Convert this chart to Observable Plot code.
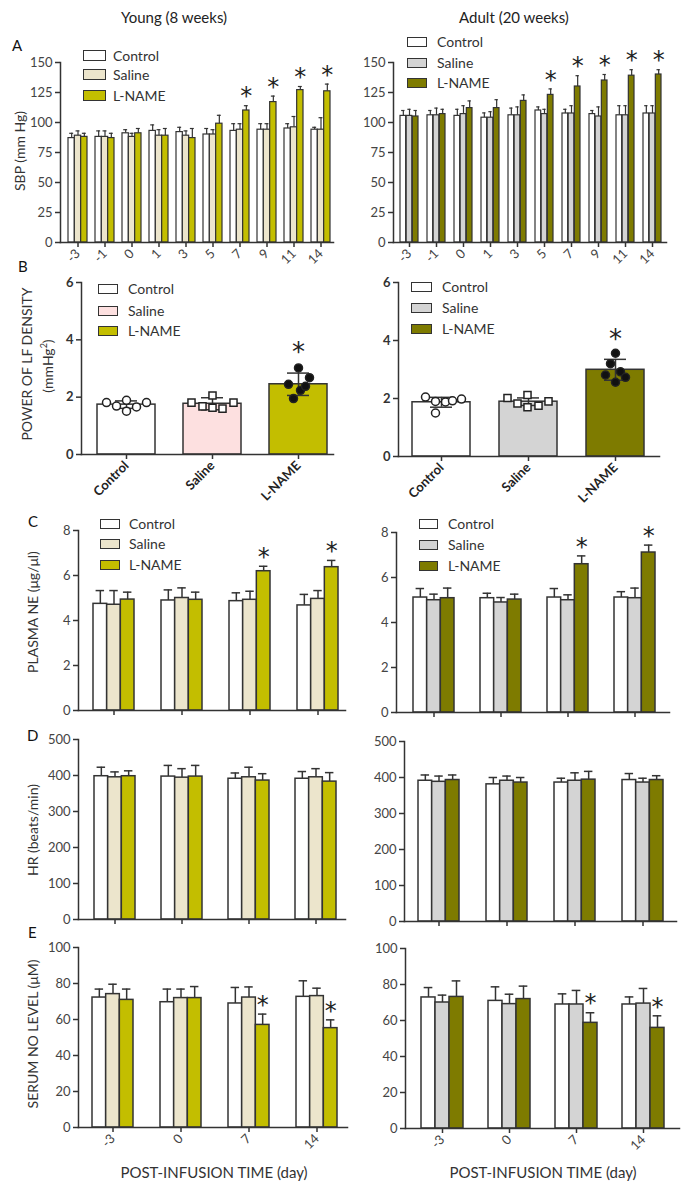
<!DOCTYPE html>
<html><head><meta charset="utf-8">
<script src="https://cdn.jsdelivr.net/npm/d3@7"></script>
<script src="https://cdn.jsdelivr.net/npm/@observablehq/plot@0.6"></script>
<style>
body{margin:0;background:#fff;}
#fig{position:relative;width:692px;height:1190px;font-family:Lato,"Open Sans",sans-serif;color:#333;overflow:hidden;background:#fff}
#fig svg{position:absolute;left:0;top:0}
.t{position:absolute;white-space:nowrap;line-height:1}
.box{position:absolute;box-sizing:border-box;border:1.5px solid #333}
</style></head><body><div id="fig"></div>
<script>
// ---------------- data ----------------
const groups = ["Control", "Saline", "L-NAME"];

const sbpDays = ["-3","-1","0","1","3","5","7","9","11","14"];
const sbpTicks = [0,25,50,75,100,125,150];
const sbpYoungControl = [87,88,91,93,92,90,93,94,95,94];
const sbpYoungControlErr = [4,5,3,5,4,5,6,5,4,2];
const sbpYoungSaline = [89,88,88,89,89,90,94,94,96,94];
const sbpYoungSalineErr = [4,5,3,5,4,4,5,5,9,10];
const sbpYoungLName = [88,87,91,89,87,99,110,117,127,126];
const sbpYoungLNameErr = [3,4,4,6,8,7,4,5,3,6];
const sbpYoungStars = ["7","9","11","14"];
const sbpAdultControl = [105.5,106,105.5,104,106,110,107.5,107,106,107.5];
const sbpAdultControlErr = [4.5,4,5.5,4,6,3,3.5,3,8,6.5];
const sbpAdultSaline = [105.5,106,107,104,106,107,107.5,105,106,107.5];
const sbpAdultSalineErr = [5.5,6,7,5,7,4,6.5,8,8,6.5];
const sbpAdultLName = [105,107,112,112,118,123,130,135,139,140];
const sbpAdultLNameErr = [5,4,6,7,5,5,9,5,5,4];
const sbpAdultStars = ["5","7","9","11","14"];

const lfTicks = [0,2,4,6];
const lfYoungMean = [1.74,1.77,2.45];
const lfYoungSD = [0.13,0.21,0.39];
const lfYoungControlPts = [1.81,1.69,1.89,1.51,1.66,1.81];
const lfYoungSalinePts = [1.81,1.68,2.06,1.63,1.60,1.81];
const lfYoungLNamePts = [2.45,3.02,2.68,1.95,2.24,2.38];
const lfAdultMean = [1.87,1.89,2.99];
const lfAdultSD = [0.17,0.13,0.36];
const lfAdultControlPts = [2.05,1.90,1.88,1.92,1.98,1.50];
const lfAdultSalinePts = [2.02,1.83,2.12,1.70,1.75,1.90];
const lfAdultLNamePts = [3.56,3.20,2.81,2.56,2.92,2.73];
const lfStars = ["L-NAME"];

const timeDays = ["-3","0","7","14"];
const neTicks = [0,2,4,6,8];
const neYoungControl = [4.74,4.89,4.86,4.67];
const neYoungControlErr = [0.59,0.47,0.37,0.49];
const neYoungSaline = [4.70,5.00,4.92,4.96];
const neYoungSalineErr = [0.63,0.45,0.38,0.37];
const neYoungLName = [4.93,4.92,6.19,6.37];
const neYoungLNameErr = [0.33,0.34,0.22,0.30];
const neAdultControl = [5.11,5.08,5.11,5.11];
const neAdultControlErr = [0.40,0.22,0.40,0.26];
const neAdultSaline = [4.99,4.89,4.99,5.08];
const neAdultSalineErr = [0.27,0.22,0.24,0.45];
const neAdultLName = [5.08,5.02,6.59,7.11];
const neAdultLNameErr = [0.45,0.24,0.37,0.33];
const neStars = ["7","14"];

const hrTicks = [0,100,200,300,400,500];
const hrYoungControl = [398,397,391,391];
const hrYoungControlErr = [25,31,16,20];
const hrYoungSaline = [395,394,395,395];
const hrYoungSalineErr = [15,25,28,24];
const hrYoungLName = [398,397,386,383];
const hrYoungLNameErr = [15,31,19,25];
const hrAdultControl = [391,381,386,393];
const hrAdultControlErr = [16,19,12,18];
const hrAdultSaline = [388,391,391,386];
const hrAdultSalineErr = [16,13,22,12];
const hrAdultLName = [393,386,394,393];
const hrAdultLNameErr = [14,14,23,12];

const noTicks = [0,20,40,60,80,100];
const noYoungControl = [72.2,69.6,68.9,72.6];
const noYoungControlErr = [4.7,7.3,8.9,8.9];
const noYoungSaline = [74.1,71.9,72.2,73.0];
const noYoungSalineErr = [5.5,5.0,5.9,4.4];
const noYoungLName = [70.9,71.9,57.0,55.2];
const noYoungLNameErr = [6.0,6.4,6.0,4.6];
const noAdultControl = [72.8,70.9,68.9,68.9];
const noAdultControlErr = [5.5,7.8,5.9,4.2];
const noAdultSaline = [70.0,69.1,68.9,69.4];
const noAdultSalineErr = [4.1,5.5,7.8,8.4];
const noAdultLName = [73.1,71.9,58.7,55.9];
const noAdultLNameErr = [8.9,7.2,5.6,6.7];
const noStars = ["7","14"];

// ---------------- styles ----------------
const youngFills = ["#ffffff", "#ece5cc", "#c3be00"];
const adultFills = ["#ffffff", "#d4d4d4", "#7e7b00"];
const lfYoungFills = ["#ffffff", "#fde0e0", "#c3be00"];
const INK = "#333";
const W = 692, H = 1190;
const FONT = "Lato, 'Open Sans', sans-serif";
const STAR_FONT = "'DejaVu Sans', sans-serif";
const fig = document.getElementById("fig");

function place(svg){ svg.style.position = "absolute"; svg.style.left = "0px"; svg.style.top = "0px"; fig.appendChild(svg); }

function grouped(cfg){
  const {cats, means, errs, fills, stars, yDomain, yTicks, axisX, axisEnd, yTop, yZero, xRange, gw, showX = true, sw = 1.5, starDy = -9} = cfg;
  const n = cats.length;
  const step = (xRange[1] - xRange[0] - gw) / (n - 1);
  const p = 1 - gw / step;
  const bw = gw / 3;
  const cap = bw * 0.62;
  const marks = [];
  groups.forEach((g, k) => {
    const data = cats.map((c, i) => ({cat: c, v: means[k][i], e: errs[k][i]}));
    marks.push(Plot.ruleX(data, {x: "cat", y1: "v", y2: d => d.v + d.e, dx: (k - 1) * bw, stroke: INK, strokeWidth: sw}));
    marks.push(Plot.tickY(data, {x: "cat", y: d => d.v + d.e, insetLeft: (k + 0.5) * bw - cap / 2, insetRight: gw - (k + 0.5) * bw - cap / 2, stroke: INK, strokeWidth: sw}));
    marks.push(Plot.barY(data, {x: "cat", y: "v", fill: fills[k], stroke: INK, strokeWidth: sw, insetLeft: k * bw, insetRight: (2 - k) * bw}));
  });
  const ln = cats.map((c, i) => ({cat: c, top: means[2][i] + errs[2][i]})).filter(d => stars.includes(d.cat));
  marks.push(Plot.text(ln, {x: "cat", y: "top", text: () => "*", dx: bw, dy: starDy, fontSize: 24, fontFamily: STAR_FONT, fill: "#222"}));
  marks.push(Plot.axisY({ticks: yTicks, tickSize: 5, tickPadding: 3, fontSize: 13, fill: "#444", stroke: INK, strokeWidth: 1.5, label: null}));
  marks.push(Plot.axisX({tickSize: 5, tickPadding: 4, tickRotate: -45, fontSize: 13, fill: "#444", stroke: INK, strokeWidth: 1.5, label: null, tickFormat: showX ? d => d : () => ""}));
  marks.push(Plot.frame({anchor: "left", stroke: INK, strokeWidth: 1.5}));
  marks.push(Plot.frame({anchor: "bottom", stroke: INK, strokeWidth: 1.5}));
  place(Plot.plot({
    width: W, height: H,
    marginLeft: axisX, marginRight: W - axisEnd, marginTop: yTop, marginBottom: H - yZero,
    x: {type: "band", domain: cats, range: xRange, paddingInner: p, paddingOuter: 0, align: 0.5},
    y: {domain: yDomain},
    style: {background: "transparent", overflow: "visible", fontFamily: FONT, color: INK},
    marks
  }));
}

function lfPanel(cfg){
  const {mean, sd, pts, jitter, fills, axisX, axisEnd, yTop, yZero, xRange, gw} = cfg;
  const step = (xRange[1] - xRange[0] - gw) / 2;
  const p = 1 - gw / step;
  const cap = 22;
  const data = groups.map((g, i) => ({cat: g, m: mean[i], s: sd[i]}));
  const marks = [
    Plot.barY(data, {x: "cat", y: "m", fill: (d, i) => fills[i], stroke: INK, strokeWidth: 1.5}),
    Plot.ruleX(data, {x: "cat", y1: d => d.m - d.s, y2: d => d.m + d.s, stroke: INK, strokeWidth: 1.5}),
    Plot.tickY(data, {x: "cat", y: d => d.m - d.s, insetLeft: (gw - cap) / 2, insetRight: (gw - cap) / 2, stroke: INK, strokeWidth: 1.5}),
    Plot.tickY(data, {x: "cat", y: d => d.m + d.s, insetLeft: (gw - cap) / 2, insetRight: (gw - cap) / 2, stroke: INK, strokeWidth: 1.5})
  ];
  const sym = [{symbol: "circle", fill: "#fff", r: 4}, {symbol: "square", fill: "#fff", r: 4}, {symbol: "circle", fill: "#111", r: 4}];
  groups.forEach((g, k) => {
    pts[k].forEach((v, i) => {
      marks.push(Plot.dot([{cat: g, v}], {x: "cat", y: "v", dx: jitter[k][i], symbol: sym[k].symbol, r: sym[k].r, fill: sym[k].fill, stroke: "#222", strokeWidth: 1.5}));
    });
  });
  marks.push(Plot.text(data.filter(d => lfStars.includes(d.cat)), {x: "cat", y: d => d.m + d.s, text: () => "*", dy: -20, fontSize: 26, fontFamily: STAR_FONT, fill: "#222"}));
  marks.push(Plot.axisY({ticks: lfTicks, tickFormat: d => String(d), tickSize: 5, tickPadding: 3, fontSize: 13, fontWeight: "bold", fill: "#333", stroke: INK, strokeWidth: 1.5, label: null}));
  marks.push(Plot.axisX({tickSize: 5, tickPadding: 4, tickRotate: -45, fontSize: 13, fontWeight: "bold", fill: "#222", stroke: INK, strokeWidth: 1.5, label: null}));
  marks.push(Plot.frame({anchor: "left", stroke: INK, strokeWidth: 1.5}));
  marks.push(Plot.frame({anchor: "bottom", stroke: INK, strokeWidth: 1.5}));
  place(Plot.plot({
    width: W, height: H,
    marginLeft: axisX, marginRight: W - axisEnd, marginTop: yTop, marginBottom: H - yZero,
    x: {type: "band", domain: groups, range: xRange, paddingInner: p, paddingOuter: 0, align: 0.5},
    y: {domain: [0, 6]},
    style: {background: "transparent", overflow: "visible", fontFamily: FONT, color: INK},
    marks
  }));
}

// ---------------- panels ----------------
grouped({cats: sbpDays, means: [sbpYoungControl, sbpYoungSaline, sbpYoungLName], errs: [sbpYoungControlErr, sbpYoungSalineErr, sbpYoungLNameErr],
  fills: youngFills, stars: sbpYoungStars, yDomain: [0,150], yTicks: sbpTicks, axisX: 60, axisEnd: 333, yTop: 62, yZero: 242, xRange: [68,330], gw: 19, sw: 1.2});
grouped({cats: sbpDays, means: [sbpAdultControl, sbpAdultSaline, sbpAdultLName], errs: [sbpAdultControlErr, sbpAdultSalineErr, sbpAdultLNameErr],
  fills: adultFills, stars: sbpAdultStars, yDomain: [0,150], yTicks: sbpTicks, axisX: 393, axisEnd: 666, yTop: 62, yZero: 242, xRange: [399,663], gw: 18.5, sw: 1.2});

lfPanel({mean: lfYoungMean, sd: lfYoungSD, pts: [lfYoungControlPts, lfYoungSalinePts, lfYoungLNamePts],
  jitter: [[-20,-10,0,0,10,20],[-21,-10,0,0,10,21],[-10,0,11,-5,2,7]], fills: lfYoungFills,
  axisX: 81, axisEnd: 333, yTop: 282, yZero: 454, xRange: [96,327], gw: 58});
lfPanel({mean: lfAdultMean, sd: lfAdultSD, pts: [lfAdultControlPts, lfAdultSalinePts, lfAdultLNamePts],
  jitter: [[-16,-6,4,11,20,-6],[-21,-11,-1,-1,10,20],[0,-5,-10,0,5,10]], fills: adultFills,
  axisX: 398, axisEnd: 659, yTop: 282, yZero: 456, xRange: [412,644], gw: 58});

grouped({cats: timeDays, means: [neYoungControl, neYoungSaline, neYoungLName], errs: [neYoungControlErr, neYoungSalineErr, neYoungLNameErr],
  fills: youngFills, stars: neStars, yDomain: [0,8], yTicks: neTicks, axisX: 78, axisEnd: 345, yTop: 530, yZero: 710, xRange: [93,338], gw: 41, showX: false});
grouped({cats: timeDays, means: [neAdultControl, neAdultSaline, neAdultLName], errs: [neAdultControlErr, neAdultSalineErr, neAdultLNameErr],
  fills: adultFills, stars: neStars, yDomain: [0,8], yTicks: neTicks, axisX: 396, axisEnd: 669, yTop: 532, yZero: 712, xRange: [412,656], gw: 41, showX: false});

grouped({cats: timeDays, means: [hrYoungControl, hrYoungSaline, hrYoungLName], errs: [hrYoungControlErr, hrYoungSalineErr, hrYoungLNameErr],
  fills: youngFills, stars: [], yDomain: [0,500], yTicks: hrTicks, axisX: 78, axisEnd: 345, yTop: 739, yZero: 919, xRange: [93,337], gw: 41, showX: false});
grouped({cats: timeDays, means: [hrAdultControl, hrAdultSaline, hrAdultLName], errs: [hrAdultControlErr, hrAdultSalineErr, hrAdultLNameErr],
  fills: adultFills, stars: [], yDomain: [0,500], yTicks: hrTicks, axisX: 404, axisEnd: 676, yTop: 741, yZero: 921, xRange: [418,663], gw: 41, showX: false});

grouped({cats: timeDays, means: [noYoungControl, noYoungSaline, noYoungLName], errs: [noYoungControlErr, noYoungSalineErr, noYoungLNameErr],
  fills: youngFills, stars: noStars, yDomain: [0,100], yTicks: noTicks, axisX: 78, axisEnd: 347, yTop: 947, yZero: 1127, xRange: [92,337], gw: 41});
grouped({cats: timeDays, means: [noAdultControl, noAdultSaline, noAdultLName], errs: [noAdultControlErr, noAdultSalineErr, noAdultLNameErr],
  fills: adultFills, stars: noStars, yDomain: [0,100], yTicks: noTicks, axisX: 405, axisEnd: 679, yTop: 948, yZero: 1128, xRange: [420,665], gw: 42});

// ---------------- text & legends ----------------
function txt(s, x, y, o = {}){
  const {size = 14, anchor = "middle", weight = "normal", rotate = 0, color = "#333", html = false} = o;
  const d = document.createElement("div");
  d.className = "t";
  d.style.left = x + "px"; d.style.top = y + "px";
  d.style.fontSize = size + "px"; d.style.fontWeight = weight; d.style.color = color;
  const tx = anchor === "middle" ? "-50%" : anchor === "start" ? "0" : "-100%";
  d.style.transform = `translate(${tx},-50%)` + (rotate ? ` rotate(${rotate}deg)` : "");
  if (html) d.innerHTML = s; else d.textContent = s;
  fig.appendChild(d);
}
function legend(bx, by, bw, bh, tx, fills){
  groups.forEach((g, i) => {
    const b = document.createElement("div");
    b.className = "box";
    b.style.left = bx + "px"; b.style.top = by[i] + "px";
    b.style.width = bw + "px"; b.style.height = bh + "px";
    b.style.background = fills[i];
    fig.appendChild(b);
    txt(g, tx, by[i] + bh / 2, {anchor: "start", size: 14});
  });
}

txt("Young (8 weeks)", 174, 17, {size: 15, color: "#222"});
txt("Adult (20 weeks)", 514, 17, {size: 15, color: "#222"});

txt("A", 12, 45, {anchor: "start", size: 15, color: "#111"});
txt("B", 18, 266, {anchor: "start", size: 15, color: "#111"});
txt("C", 28, 521, {anchor: "start", size: 15, color: "#111"});
txt("D", 27, 735, {anchor: "start", size: 15, color: "#111"});
txt("E", 28, 932, {anchor: "start", size: 15, color: "#111"});

txt("SBP (mm Hg)", 20, 151, {rotate: -90, size: 14});
txt("POWER OF LF DENSITY", 27, 364, {rotate: -90, size: 14});
txt("(mmHg<sup style='font-size:9px'>2</sup>)", 47, 366, {rotate: -90, size: 14, html: true});
txt("PLASMA NE (μg/μl)", 33, 612, {rotate: -90, size: 14});
txt("HR (beats/min)", 33, 830, {rotate: -90, size: 14});
txt("SERUM NO LEVEL (μM)", 33, 1034, {rotate: -90, size: 14});

txt("POST-INFUSION TIME (day)", 214, 1172, {size: 15});
txt("POST-INFUSION TIME (day)", 543, 1172, {size: 15});

legend(83, [50, 69, 90], 23, 11, 113, youngFills);
legend(407, [37, 58, 78], 20, 10, 437, adultFills);
legend(98, [284, 306, 326], 20, 10, 128, lfYoungFills);
legend(411, [282, 303, 324], 21, 10, 442, adultFills);
legend(100, [519, 539, 560], 20, 10, 129, youngFills);
legend(419, [519, 540, 561], 19, 10, 448, adultFills);
</script>
</body></html>
